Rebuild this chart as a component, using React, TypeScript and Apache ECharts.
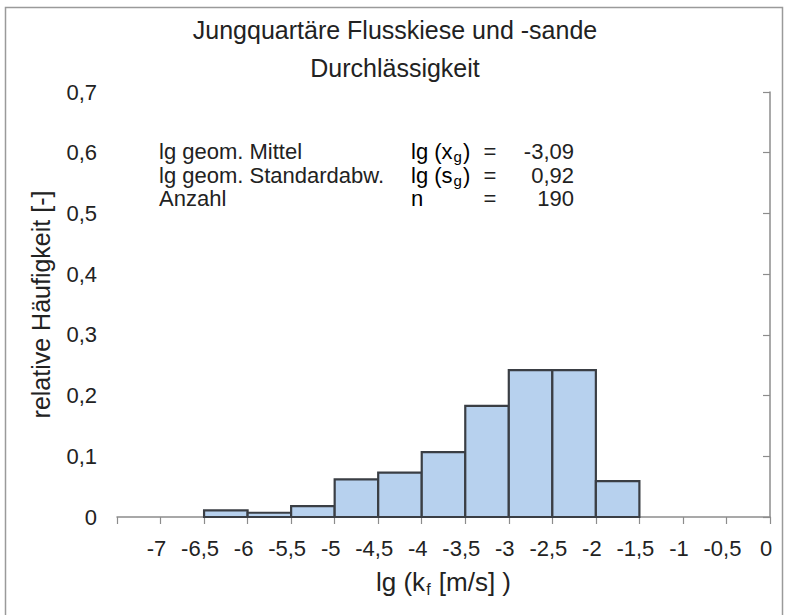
import React, { useEffect, useRef } from "react";
import * as echarts from "echarts";

const binStarts = [-6.5, -6, -5.5, -5, -4.5, -4, -3.5, -3, -2.5, -2];
const binWidth = 0.5;
const relFreq = [0.011, 0.007, 0.018, 0.062, 0.073, 0.107, 0.183, 0.242, 0.242, 0.059];

const titleLines = ["Jungquartäre Flusskiese und -sande", "Durchlässigkeit"];
const statLabels = ["lg geom. Mittel", "lg geom. Standardabw.", "Anzahl"];
const statSymbols = ["{a|lg (x}{s|g}{a|)}", "{a|lg (s}{s|g}{a|)}", "{a|n}"];
const statValues = ["-3,09", "0,92", "190"];

const FONT = "Liberation Sans, Arial, sans-serif";
const TXT = "#222";

export default function App() {
  const ref = useRef<HTMLDivElement>(null);
  useEffect(() => {
    if (!ref.current) return;
    const chart = echarts.init(ref.current, null, { renderer: "svg" });
    const rich = {
      a: { fontSize: 22, fontFamily: FONT, color: TXT, lineHeight: 26, verticalAlign: "middle" },
      s: { fontSize: 15, fontFamily: FONT, color: TXT, lineHeight: 15, verticalAlign: "bottom", padding: [0, 1, 0, 1] },
    };
    const rowY = [151, 175, 198];
    const graphics: any[] = [
      {
        type: "rect",
        shape: { x: 5.5, y: 7.5, width: 777, height: 640 },
        style: { fill: "none", stroke: "#9a9a9a", lineWidth: 1.5 },
        silent: true,
      },
    ];
    statLabels.forEach((lab, i) => {
      graphics.push({
        type: "text",
        x: 159,
        y: rowY[i],
        style: { text: lab, fontSize: 22, fontFamily: FONT, fill: TXT, align: "left", verticalAlign: "middle" },
      });
      graphics.push({
        type: "text",
        x: 411,
        y: rowY[i],
        style: { text: statSymbols[i], rich, align: "left", verticalAlign: "middle" },
      });
      graphics.push({
        type: "text",
        x: 490,
        y: rowY[i],
        style: { text: "=", fontSize: 22, fontFamily: FONT, fill: TXT, align: "center", verticalAlign: "middle" },
      });
      graphics.push({
        type: "text",
        x: 574,
        y: rowY[i],
        style: { text: statValues[i], fontSize: 22, fontFamily: FONT, fill: TXT, align: "right", verticalAlign: "middle" },
      });
    });

    const data = binStarts.map((s, i) => [s, s + binWidth, relFreq[i]]);
    const fmt = (v: number) => String(v).replace(".", ",");

    chart.setOption({
      animation: false,
      backgroundColor: "#ffffff",
      title: {
        text: titleLines.join("\n"),
        left: 390,
        textAlign: "center",
        top: 6,
        textStyle: { fontSize: 25, fontWeight: "normal", fontFamily: FONT, color: TXT, lineHeight: 38 },
      },
      grid: { left: 117, top: 92, width: 653, height: 425, containLabel: false },
      xAxis: {
        type: "value",
        min: -7.5,
        max: 0,
        interval: 0.5,
        name: "{a|lg (k}{s|f}{a| [m/s] )}",
        nameLocation: "middle",
        nameGap: 50,
        nameTextStyle: {
          rich: {
            a: { fontSize: 26, fontFamily: FONT, color: TXT, lineHeight: 30, verticalAlign: "middle" },
            s: { fontSize: 16, fontFamily: FONT, color: TXT, lineHeight: 16, verticalAlign: "bottom", padding: [0, 1, 0, 1] },
          },
        },
        axisLine: { show: true, lineStyle: { color: "#8c8c8c", width: 1.5 } },
        axisTick: { show: true, length: 7, inside: false, lineStyle: { color: "#8c8c8c", width: 1.2 } },
        splitLine: { show: false },
        axisLabel: {
          fontSize: 22,
          fontFamily: FONT,
          color: TXT,
          margin: 20,
          padding: [0, 8, 0, 0],
          hideOverlap: false,
          formatter: (v: number) => (v <= -7.5 ? "" : fmt(v)),
        },
      },
      yAxis: {
        type: "value",
        min: 0,
        max: 0.7,
        interval: 0.1,
        name: "relative Häufigkeit [-]",
        nameLocation: "middle",
        nameRotate: 90,
        nameGap: 64,
        nameTextStyle: { fontSize: 25, fontFamily: FONT, color: TXT },
        axisLine: { show: true, lineStyle: { color: "#8c8c8c", width: 1.5 } },
        axisTick: { show: true, length: 7, inside: false, lineStyle: { color: "#8c8c8c", width: 1.2 } },
        splitLine: { show: false },
        axisLabel: {
          fontSize: 22,
          fontFamily: FONT,
          color: TXT,
          margin: 20,
          formatter: (v: number) => fmt(Math.round(v * 10) / 10),
        },
      },
      series: [
        {
          type: "custom",
          data,
          encode: { x: [0, 1], y: 2 },
          renderItem: (params: any, api: any) => {
            const p0 = api.coord([api.value(0), api.value(2)]);
            const p1 = api.coord([api.value(1), 0]);
            return {
              type: "rect",
              shape: { x: p0[0], y: p0[1], width: p1[0] - p0[0], height: p1[1] - p0[1] },
              style: { fill: "#b7d1ee", stroke: "#3a3e44", lineWidth: 2.2 },
            };
          },
        },
      ],
      graphic: graphics,
    });
    return () => chart.dispose();
  }, []);
  return (
    <div
      ref={ref}
      style={{ position: "fixed", left: 0, top: 0, width: 786, height: 615, background: "#fff" }}
    />
  );
}
